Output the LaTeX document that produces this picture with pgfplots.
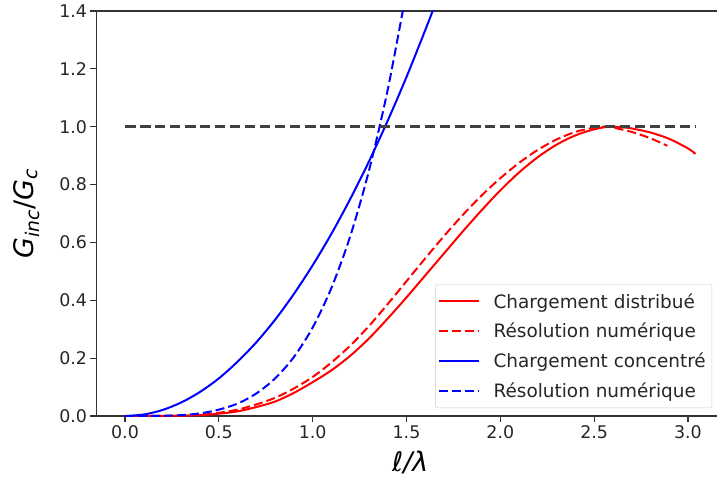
\documentclass[border=0pt]{standalone}
\usepackage{fontspec}
\setmainfont{DejaVu Sans}
\usepackage{pgfplots}
\pgfplotsset{compat=1.18}

% G_inc/G_c against l/lambda
\pgfplotstableread{
x     y
0.00  0.000
0.20  0.0003
0.40  0.003
0.50  0.008
0.60  0.016
0.70  0.031
0.80  0.050
0.90  0.080
1.00  0.117
1.10  0.158
1.20  0.208
1.30  0.268
1.40  0.337
1.50  0.410
1.60  0.486
1.70  0.562
1.80  0.638
1.90  0.711
2.00  0.780
2.10  0.842
2.20  0.895
2.30  0.938
2.40  0.970
2.50  0.991
2.58  1.000
2.65  0.998
2.70  0.994
2.80  0.980
2.90  0.958
3.00  0.925
3.04  0.906
}\distrib
\pgfplotstableread{
x     y
0.00  0.000
0.20  0.0005
0.40  0.004
0.50  0.011
0.60  0.022
0.70  0.040
0.80  0.063
0.90  0.095
1.00  0.135
1.10  0.185
1.20  0.243
1.30  0.311
1.40  0.387
1.50  0.466
1.60  0.545
1.70  0.622
1.80  0.695
1.90  0.762
2.00  0.822
2.10  0.875
2.20  0.920
2.30  0.956
2.40  0.982
2.50  0.997
2.55  1.000
2.60  0.997
2.70  0.982
2.80  0.960
2.89  0.934
}\distribnum
\pgfplotstableread{
x     y
0.00  0.000
0.10  0.0052
0.20  0.0208
0.30  0.0469
0.40  0.0834
0.50  0.130
0.60  0.188
0.70  0.255
0.80  0.333
0.90  0.422
1.00  0.521
1.10  0.630
1.20  0.750
1.30  0.880
1.40  1.021
1.50  1.172
1.60  1.334
1.65  1.418
}\concen
\pgfplotstableread{
x     y
0.00  0.000
0.10  0.0000
0.20  0.0006
0.30  0.003
0.40  0.009
0.50  0.022
0.60  0.043
0.70  0.078
0.80  0.130
0.90  0.204
1.00  0.306
1.10  0.443
1.20  0.621
1.30  0.848
1.40  1.128
1.50  1.470
}\concennum

\begin{document}
\begin{tikzpicture}
\begin{axis}[
    scale only axis,
    width=627.5bp, height=405bp,
    xmin=-0.152, xmax=3.192,
    ymin=0, ymax=1.4,
    xtick={0,0.5,1,1.5,2,2.5,3},
    ytick={0,0.2,0.4,0.6,0.8,1.0,1.2,1.4},
    /pgf/number format/.cd, fixed, fixed zerofill, precision=1, assume math mode=true,
    /pgfplots/.cd,
    tick pos=left,
    tick align=outside,
    major tick length=6bp,
    tick style={line width=1.1bp, black!80},
    axis line style={line width=1.1bp, black!80},
    ticklabel style={font=\fontsize{17.5}{21}\selectfont, text=black!85},
    xlabel={\textit{ℓ/λ}},
    ylabel={\textit{G}\textsubscript{\textit{inc}}/\textit{G}\textsubscript{\textit{c}}},
    label style={font=\fontsize{27}{32}\selectfont, text=black},
    x label style={at={(axis description cs:0.5,-0.115)}, anchor=center},
    y label style={at={(axis description cs:-0.111,0.5)}, anchor=center, rotate=0},
    legend style={at={(1,0)}, anchor=south east, xshift=-12bp, yshift=8bp,
        draw=black!20, rounded corners=2bp, inner sep=2bp,
        font=\fontsize{18.5}{22}\selectfont, text=black!85,
        nodes={inner xsep=4bp, inner ysep=6.8bp},
        /tikz/every odd column/.append style={column sep=10bp}},
    legend cell align=left,
    legend image code/.code={\draw[#1] (0bp,0bp) -- (40bp,0bp);},
    every axis plot/.append style={line width=2bp, line join=round, smooth, tension=0.5},
]
\addplot[red] table[x=x, y=y] {\distrib};
\addlegendentry{Chargement distribué}
\addplot[red, dash pattern=on 9bp off 4bp] table[x=x, y=y] {\distribnum};
\addlegendentry{Résolution numérique}
\addplot[blue] table[x=x, y=y] {\concen};
\addlegendentry{Chargement concentré}
\addplot[blue, dash pattern=on 9bp off 4bp] table[x=x, y=y] {\concennum};
\addlegendentry{Résolution numérique}
\addplot[black!75, line width=2.5bp, dash pattern=on 10bp off 5bp, forget plot]
    coordinates {(0,1) (3.04,1)};
\end{axis}
\pgfresetboundingbox
\path[use as bounding box] ([shift={(-96.5bp,-73bp)}]current axis.south west)
    rectangle ([shift={(-7bp,11bp)}]current axis.north east);
\end{tikzpicture}
\end{document}
